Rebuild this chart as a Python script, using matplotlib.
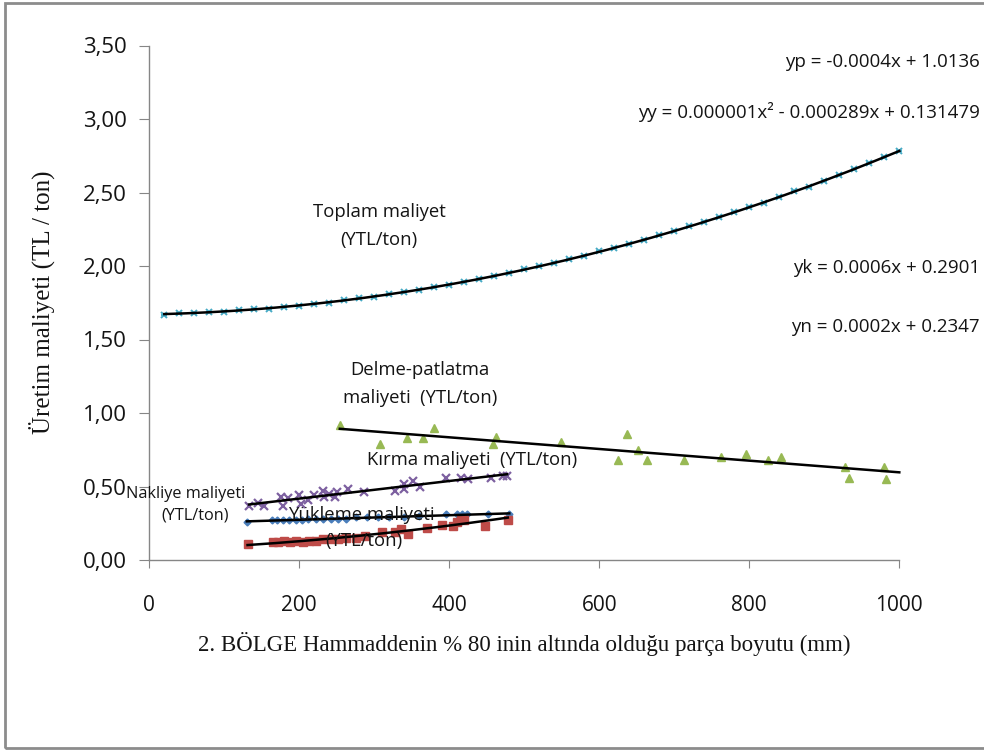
import numpy as np
import matplotlib
matplotlib.use("Agg")
import matplotlib.pyplot as plt
from matplotlib.patches import Rectangle

# --- data -----------------------------------------------------------------
# Delme-patlatma (drilling & blasting) cost
x_delme = [254, 308, 343, 365, 379, 458, 462, 549, 625, 637, 651, 664, 713,
           762, 795, 825, 842, 928, 933, 979, 982]
y_delme = [0.92, 0.79, 0.83, 0.83, 0.90, 0.79, 0.84, 0.80, 0.68, 0.86, 0.75,
           0.68, 0.68, 0.70, 0.72, 0.68, 0.70, 0.63, 0.56, 0.63, 0.55]

# Kırma (crushing) cost
x_kirma = [133, 145, 153, 176, 178, 185, 200, 202, 211, 219, 231, 233, 239,
           247, 250, 265, 286, 328, 339, 340, 351, 361, 395, 416, 425, 455,
           472, 477]
y_kirma = [0.37, 0.39, 0.37, 0.43, 0.37, 0.42, 0.44, 0.38, 0.41, 0.44, 0.47,
           0.43, 0.45, 0.43, 0.46, 0.48, 0.46, 0.47, 0.48, 0.52, 0.54, 0.50,
           0.56, 0.56, 0.55, 0.56, 0.57, 0.57]

# Nakliye (haulage) cost
x_nakliye = [130, 163, 170, 178, 186, 195, 203, 212, 222, 232, 242, 252, 262,
             275, 290, 305, 320, 340, 360, 396, 410, 417, 423, 452, 480]
y_nakliye = [0.26, 0.27, 0.27, 0.27, 0.27, 0.27, 0.27, 0.28, 0.28, 0.28, 0.28,
             0.28, 0.28, 0.29, 0.29, 0.29, 0.29, 0.29, 0.30, 0.31, 0.31, 0.31,
             0.31, 0.31, 0.31]

# Yükleme (loading) cost
x_yukleme = [131, 165, 172, 180, 188, 196, 205, 213, 222, 232, 242, 252, 262,
             275, 288, 310, 327, 335, 345, 370, 390, 405, 410, 415, 420, 448,
             478]
y_yukleme = [0.11, 0.12, 0.12, 0.13, 0.12, 0.13, 0.12, 0.13, 0.13, 0.14, 0.14,
             0.14, 0.15, 0.15, 0.16, 0.19, 0.19, 0.21, 0.18, 0.22, 0.24, 0.23,
             0.26, 0.28, 0.27, 0.23, 0.27]

# Toplam (total) cost
x_toplam = list(range(20, 1001, 20))
y_toplam = [1.67, 1.68, 1.68, 1.69, 1.69, 1.70, 1.71, 1.71, 1.72, 1.73,
            1.74, 1.75, 1.77, 1.78, 1.79, 1.81, 1.82, 1.84, 1.86, 1.87,
            1.89, 1.91, 1.93, 1.95, 1.98, 2.00, 2.02, 2.05, 2.07, 2.10,
            2.12, 2.15, 2.18, 2.21, 2.24, 2.27, 2.30, 2.33, 2.37, 2.40,
            2.43, 2.47, 2.51, 2.54, 2.58, 2.62, 2.66, 2.70, 2.74, 2.78]

x_ticks = [0, 200, 400, 600, 800, 1000]
y_ticks = [0.0, 0.5, 1.0, 1.5, 2.0, 2.5, 3.0, 3.5]

eq_labels = ["yp = -0.0004x + 1.0136",
             "yy = 0.000001x\u00b2 - 0.000289x + 0.131479",
             "yk = 0.0006x + 0.2901",
             "yn = 0.0002x + 0.2347"]

# --- styling ----------------------------------------------------------------
C_BLUE = "#4A7EBB"
C_RED = "#BE4B48"
C_GREEN = "#98B954"
C_PURPLE = "#7D60A0"
C_CYAN = "#46AAC5"
AXIS_GRAY = "#868686"
TXT = "#141414"
SANS = ["Open Sans", "DejaVu Sans"]
SERIF = ["Liberation Serif", "DejaVu Serif"]

fig = plt.figure(figsize=(9.84, 7.54), dpi=100)
ax = fig.add_axes([149.3 / 984, 1 - 560 / 754, 750 / 984, (560 - 45.5) / 754])

# outer chart frame (its right side runs past the canvas edge)
fig.patches.append(Rectangle((5 / 984, 1 - 748 / 754), 1.05, 745 / 754,
                             transform=fig.transFigure, fill=False,
                             edgecolor="#8C8C8C", linewidth=2))


def trend(x, y, deg, x0, x1):
    c = np.polyfit(x, y, deg)
    xs = np.linspace(x0, x1, 200)
    ax.plot(xs, np.polyval(c, xs), color="black", lw=1.8, zorder=4,
            clip_on=False)


# scatter series
ax.plot(x_delme, y_delme, "^", color=C_GREEN, ms=6, ls="none", zorder=3)
ax.plot(x_kirma, y_kirma, "x", color=C_PURPLE, ms=5.5, mew=1.6, ls="none",
        zorder=3)
ax.plot(x_nakliye, y_nakliye, "D", color=C_BLUE, ms=3.5, ls="none", zorder=3)
ax.plot(x_yukleme, y_yukleme, "s", color=C_RED, ms=5.5, ls="none", zorder=3)
ax.plot(x_toplam, y_toplam, "x", color=C_CYAN, ms=4.5, mew=1.4, ls="none",
        zorder=3, clip_on=False)
ax.plot(x_toplam, y_toplam, "_", color=C_CYAN, ms=4.5, mew=1.4, ls="none",
        zorder=3, clip_on=False)

# trend lines
trend(x_delme, y_delme, 1, min(x_delme), 1000)
trend(x_kirma, y_kirma, 1, min(x_kirma), max(x_kirma))
trend(x_nakliye, y_nakliye, 1, min(x_nakliye), max(x_nakliye))
trend(x_yukleme, y_yukleme, 2, min(x_yukleme), max(x_yukleme))
trend(x_toplam, y_toplam, 2, min(x_toplam), max(x_toplam))

# axes
ax.set_xlim(0, 1000)
ax.set_ylim(0, 3.5)
ax.set_xticks(x_ticks)
ax.set_yticks(y_ticks)
ax.set_xticklabels([str(v) for v in x_ticks], family=SANS, fontsize=15)
ax.set_yticklabels([f"{v:.2f}".replace(".", ",") for v in y_ticks],
                   family=SANS, fontsize=16)
for s in ("top", "right"):
    ax.spines[s].set_visible(False)
for s in ("left", "bottom"):
    ax.spines[s].set_color(AXIS_GRAY)
    ax.spines[s].set_linewidth(1)
ax.tick_params(axis="y", direction="out", length=7, color=AXIS_GRAY, pad=9,
               labelcolor=TXT)
ax.tick_params(axis="x", direction="out", length=6, color=AXIS_GRAY, pad=19,
               labelcolor=TXT)

ax.set_ylabel("Üretim maliyeti (TL / ton)", family=SERIF, fontsize=18,
              labelpad=20, color=TXT)
ax.set_xlabel("2. BÖLGE Hammaddenin % 80 inin altında olduğu parça boyutu (mm)",
              family=SERIF, fontsize=16.5, labelpad=12, color=TXT)


# series annotations (pixel positions converted to data units)
def px(xp, yp):
    return (xp - 149.3) / 0.75, (560 - yp) / 147.0


kw = dict(family=SANS, color=TXT, zorder=5, va="center", clip_on=False)
ax.text(*px(379, 212), "Toplam maliyet", ha="center", fontsize=13.3, **kw)
ax.text(*px(379, 240), "(YTL/ton)", ha="center", fontsize=13.3, **kw)
ax.text(*px(420, 370), "Delme-patlatma", ha="center", fontsize=13.3, **kw)
ax.text(*px(420, 398), "maliyeti  (YTL/ton)", ha="center", fontsize=13.3, **kw)
ax.text(*px(367, 460), "Kırma maliyeti  (YTL/ton)", ha="left", fontsize=13.3,
        **kw)
ax.text(*px(186, 494), "Nakliye maliyeti", ha="center", fontsize=11.7, **kw)
ax.text(*px(195, 516), "(YTL/ton)", ha="center", fontsize=11.7, **kw)
ax.text(*px(361, 515), "Yükleme maliyeti", ha="center", fontsize=13.3, **kw)
ax.text(*px(364, 541), "(YTL/ton)", ha="center", fontsize=13.3, **kw)

for lbl, ypix in zip(eq_labels, [62, 112, 268, 327]):
    ax.text(*px(980, ypix), lbl, ha="right", fontsize=13.5, **kw)

fig.savefig("out.png", dpi=100)
